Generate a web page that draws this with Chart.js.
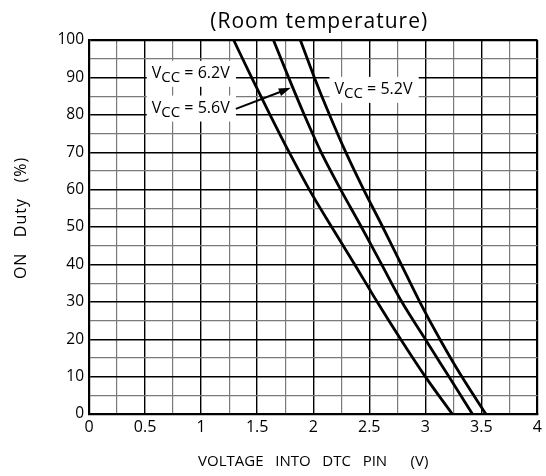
<!DOCTYPE html>
<html>
<head>
<meta charset="utf-8">
<script src="https://cdn.jsdelivr.net/npm/chart.js@4.4.1/dist/chart.umd.min.js"></script>
<style>
  html, body { margin: 0; padding: 0; background: #fff; }
  #caja { width: 546px; height: 476px; }
</style>
</head>
<body>
<div id="caja"><canvas id="grafico" width="546" height="476"></canvas></div>
<script>
// datos: voltaje DTC (V) para cada nivel de ON Duty (%)
const nivelesDuty = [100, 90, 80, 70, 60, 50, 40, 30, 20, 10, 0];
const vcc62 = [1.29, 1.45, 1.615, 1.785, 1.965, 2.165, 2.37, 2.57, 2.78, 3.00, 3.24];
const vcc56 = [1.645, 1.78, 1.92, 2.07, 2.245, 2.43, 2.61, 2.79, 3.00, 3.21, 3.42];
const vcc52 = [1.885, 2.01, 2.145, 2.29, 2.45, 2.62, 2.785, 2.95, 3.13, 3.325, 3.54];
const nombresSeries = ['6.2V', '5.6V', '5.2V'];

const fuente = "'Open Sans', 'Noto Sans', sans-serif";

function armarPuntos(voltajes) {
    return voltajes.map((v, i) => ({ x: v, y: nivelesDuty[i] }));
}

function serie(nombre, voltajes) {
    return {
        label: 'VCC = ' + nombre,
        data: armarPuntos(voltajes),
        showLine: true,
        borderColor: '#000',
        borderWidth: 2.8,
        pointRadius: 0,
        cubicInterpolationMode: 'monotone',
        fill: false
    };
}

// texto VCC con subindice
function dibujarVcc(ctx, x, y, valor) {
    ctx.fillStyle = '#000';
    ctx.textAlign = 'left';
    ctx.textBaseline = 'alphabetic';
    ctx.font = '16px ' + fuente;
    ctx.fillText('V', x, y);
    let w = ctx.measureText('V').width;
    ctx.font = '15px ' + fuente;
    ctx.fillText('CC', x + w, y + 4);
    w += ctx.measureText('CC').width;
    ctx.font = '16px ' + fuente;
    ctx.fillText(' = ' + valor, x + w, y);
    return w + ctx.measureText(' = ' + valor).width;
}

// posiciones de las etiquetas en unidades del grafico
const etiquetas = [
    { valor: nombresSeries[0], x: 0.56, y: 89.9 },
    { valor: nombresSeries[1], x: 0.56, y: 80.6 },
    { valor: nombresSeries[2], x: 2.19, y: 85.6 }
];

const pluginEtiquetas = {
    id: 'etiquetas',
    beforeDatasetsDraw(chart) {
        const ctx = chart.ctx;
        const sx = chart.scales.x;
        const sy = chart.scales.y;
        ctx.save();
        etiquetas.forEach(et => {
            const px = sx.getPixelForValue(et.x);
            const py = sy.getPixelForValue(et.y);
            ctx.font = '16px ' + fuente;
            const ancho = ctx.measureText('VCC = ' + et.valor).width;
            ctx.fillStyle = '#fff';
            ctx.fillRect(px - 5, py - 17, ancho + 10, 26);
            dibujarVcc(ctx, px, py, et.valor);
        });
        ctx.restore();
    },
    afterDatasetsDraw(chart) {
        const ctx = chart.ctx;
        const sx = chart.scales.x;
        const sy = chart.scales.y;
        const x1 = sx.getPixelForValue(1.31), y1 = sy.getPixelForValue(81.6);
        const x2 = sx.getPixelForValue(1.80), y2 = sy.getPixelForValue(87.2);
        const ang = Math.atan2(y2 - y1, x2 - x1);
        ctx.save();
        ctx.strokeStyle = '#000';
        ctx.fillStyle = '#000';
        ctx.lineWidth = 2;
        ctx.beginPath();
        ctx.moveTo(x1, y1);
        ctx.lineTo(x2 - 8 * Math.cos(ang), y2 - 8 * Math.sin(ang));
        ctx.stroke();
        ctx.beginPath();
        ctx.moveTo(x2, y2);
        ctx.lineTo(x2 - 12 * Math.cos(ang) + 4 * Math.sin(ang), y2 - 12 * Math.sin(ang) - 4 * Math.cos(ang));
        ctx.lineTo(x2 - 12 * Math.cos(ang) - 4 * Math.sin(ang), y2 - 12 * Math.sin(ang) + 4 * Math.cos(ang));
        ctx.closePath();
        ctx.fill();
        ctx.restore();
    },
    // titulo del grafico y titulo del eje Y
    afterDraw(chart) {
        const ctx = chart.ctx;
        const area = chart.chartArea;
        ctx.save();
        ctx.fillStyle = '#000';
        ctx.textAlign = 'center';
        ctx.textBaseline = 'alphabetic';
        ctx.font = '21px ' + fuente;
        if ('letterSpacing' in ctx) ctx.letterSpacing = '1px';
        ctx.fillText('(Room temperature)', (area.left + area.right) / 2 + 6, area.top - 12);
        ctx.translate(21, (area.top + area.bottom) / 2 - 9);
        ctx.rotate(-Math.PI / 2);
        ctx.textBaseline = 'middle';
        ctx.font = '16px ' + fuente;
        ctx.fillText('ON   Duty   (%)', 0, 0);
        ctx.restore();
    }
};

const config = {
    type: 'scatter',
    data: {
        datasets: [
            serie(nombresSeries[0], vcc62),
            serie(nombresSeries[1], vcc56),
            serie(nombresSeries[2], vcc52)
        ]
    },
    options: {
        responsive: false,
        animation: false,
        devicePixelRatio: 1,
        layout: { padding: { left: 0, right: 4, top: 40, bottom: 0 } },
        plugins: {
            legend: { display: false },
            tooltip: { enabled: false },
            title: { display: false }
        },
        scales: {
            x: {
                type: 'linear',
                min: 0,
                max: 4,
                afterFit: s => { s.height = 62; },
                ticks: {
                    stepSize: 0.25,
                    autoSkip: false,
                    maxRotation: 0,
                    padding: 4,
                    color: '#000',
                    font: { family: fuente, size: 16 },
                    callback: v => (v % 0.5 === 0 ? String(v) : '')
                },
                grid: {
                    drawTicks: false,
                    color: c => (c.tick.value % 0.5 === 0 ? '#000' : '#7a7a7a'),
                    lineWidth: c => (c.tick.value === 4 ? 2.2 : (c.tick.value % 0.5 === 0 ? 1.4 : 1.2))
                },
                border: { color: '#000', width: 2.2 },
                title: {
                    display: true,
                    text: 'VOLTAGE   INTO   DTC   PIN      (V)',
                    color: '#000',
                    font: { family: fuente, size: 15, lineHeight: 1.2 },
                    padding: { top: 0, bottom: 5 }
                }
            },
            y: {
                type: 'linear',
                min: 0,
                max: 100,
                afterFit: s => { s.width = 89; },
                ticks: {
                    stepSize: 5,
                    autoSkip: false,
                    padding: 5,
                    color: '#000',
                    font: { family: fuente, size: 15.5 },
                    callback: v => (v % 10 === 0 ? String(v) : '')
                },
                grid: {
                    drawTicks: false,
                    color: c => (c.tick.value % 10 === 0 ? '#000' : '#7a7a7a'),
                    lineWidth: c => (c.tick.value === 100 ? 2.2 : (c.tick.value % 10 === 0 ? 1.4 : 1.2))
                },
                border: { color: '#000', width: 2.2 }
            }
        }
    },
    plugins: [pluginEtiquetas]
};

const myChart = new Chart(document.getElementById('grafico').getContext('2d'), config);
</script>
</body>
</html>
